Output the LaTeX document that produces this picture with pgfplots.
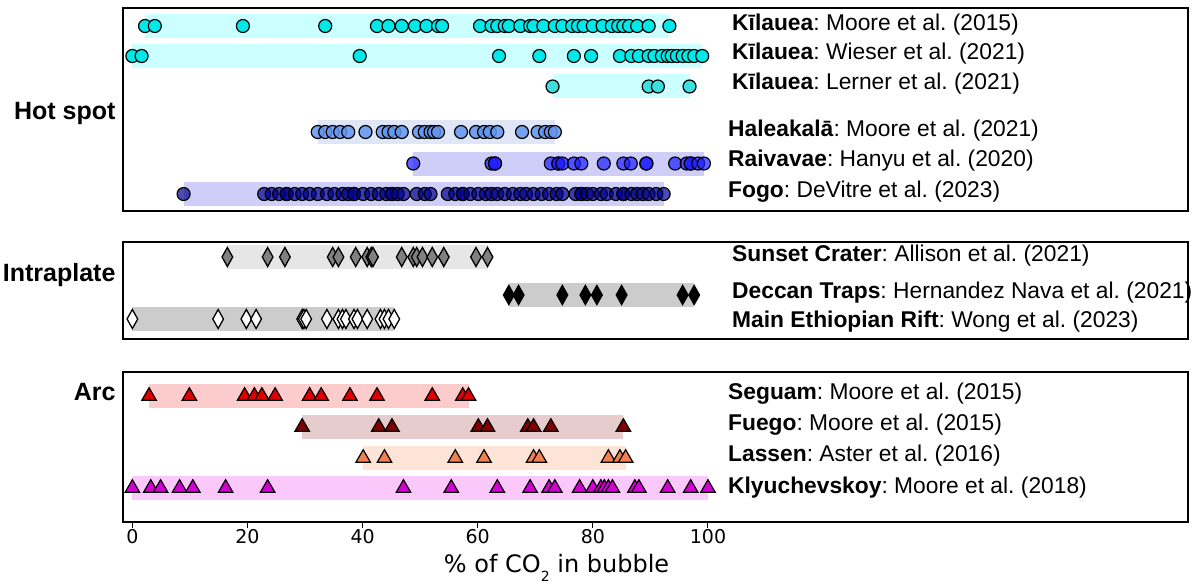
\documentclass[border=0pt]{standalone}
\usepackage{fontspec}
\setmainfont{Liberation Sans}
\newfontfamily\dejavu{DejaVu Sans}
\usepackage{pgfplots}
\pgfplotsset{compat=1.18}
\frenchspacing

% marker fills
\definecolor{kcyan}{RGB}{0,232,232}
\definecolor{lcyan}{RGB}{60,222,222}
\definecolor{halea}{RGB}{100,149,237}
\definecolor{raiva}{RGB}{30,30,255}
\definecolor{fogo}{RGB}{0,0,139}
\definecolor{seguam}{RGB}{222,0,0}
\definecolor{fuego}{RGB}{128,0,0}
\definecolor{lassen}{RGB}{240,128,80}
\definecolor{klyu}{RGB}{210,0,210}
% band fills
\definecolor{bcyan}{RGB}{204,255,255}
\definecolor{bhalea}{RGB}{222,230,247}
\definecolor{bblue}{RGB}{206,206,248}
\definecolor{bgray}{RGB}{230,230,230}
\definecolor{bdark}{RGB}{204,204,204}
\definecolor{bseg}{RGB}{252,204,204}
\definecolor{bfue}{RGB}{230,204,204}
\definecolor{blas}{RGB}{253,228,215}
\definecolor{bkly}{RGB}{250,200,250}

\pgfplotsset{
  panel/.style={scale only axis, width=1065pt, xmin=-1.63, xmax=183.4,
    y dir=reverse, clip=false, axis line style={line width=1.5pt},
    xtick=\empty, ytick=\empty},
  band/.style={line width=24pt, no marks, line cap=butt},
  circ/.style={only marks, mark=*, mark size=6.5pt, draw=black, line width=1.2pt, fill=#1},
  diam/.style={only marks, mark=diamond*, mark size=9.5pt, draw=black, line width=1.3pt, fill=#1,
    mark options={xscale=0.75}},
  tri/.style={only marks, mark=triangle*, mark size=8.3pt, draw=black, line width=1.2pt, fill=#1},
}
\newcommand{\lab}{\fontsize{22.8}{27}\selectfont}
\newcommand{\grp}{\fontsize{25}{30}\selectfont\bfseries}

\begin{document}
\begin{tikzpicture}
\path[use as bounding box] (0,0) rectangle (1195pt,-585pt);

% ---------------- Hot spot ----------------
\begin{axis}[panel, at={(123pt,-8pt)}, anchor=north west, height=203pt, ymin=8, ymax=211]
\addplot[band, bcyan] coordinates {(2.2,26) (93.3,26)};
\addplot[band, bcyan] coordinates {(0,56) (99.0,56)};
\addplot[band, bcyan] coordinates {(73.0,86.5) (96.8,86.5)};
\addplot[band, bhalea] coordinates {(32.2,132) (73.4,132)};
\addplot[band, bblue] coordinates {(48.8,163.5) (99.3,163.5)};
\addplot[band, bblue] coordinates {(8.9,194) (92.3,194)};

\addplot[circ=kcyan] coordinates {
(2.2,26)(3.9,26)(19.2,26)(33.5,26)(42.5,26)(44.5,26)(46.8,26)(49.1,26)(51.1,26)
(53.1,26)(53.8,26)(60.4,26)(62.4,26)(63.4,26)(64.7,26)(65.4,26)(67.4,26)(69.1,26)
(69.7,26)(71.4,26)(73.4,26)(74.7,26)(76.4,26)(77.4,26)(78.4,26)(80.0,26)(81.7,26)
(83.3,26)(84.4,26)(85.3,26)(86.3,26)(87.7,26)(89.7,26)(93.3,26)};
\addplot[circ=kcyan] coordinates {
(0,56)(1.6,56)(39.5,56)(63.7,56)(70.7,56)(76.7,56)(79.7,56)(84.7,56)(86.7,56)
(88.0,56)(89.7,56)(90.7,56)(92.0,56)(93.0,56)(93.7,56)(94.6,56)(95.6,56)(96.6,56)
(97.6,56)(99.0,56)};
\addplot[circ=lcyan] coordinates {(73.0,86.5)(89.7,86.5)(91.3,86.5)(96.8,86.5)};
\addplot[circ=halea, fill opacity=0.85] coordinates {
(32.2,132)(33.5,132)(34.8,132)(36.1,132)(37.5,132)(40.5,132)(43.5,132)(44.5,132)
(45.5,132)(46.8,132)(49.8,132)(50.8,132)(51.8,132)(52.4,132)(53.1,132)(57.1,132)
(59.7,132)(61.1,132)(62.1,132)(63.4,132)(67.7,132)(70.4,132)(71.7,132)(72.7,132)(73.4,132)};
\addplot[circ=raiva, fill opacity=0.7] coordinates {
(48.8,163.5)(62.4,163.5)(63.0,163.5)(63.0,163.5)(72.7,163.5)(74.0,163.5)(74.0,163.5)
(74.7,163.5)(76.7,163.5)(78.0,163.5)(81.9,163.5)(85.3,163.5)(86.6,163.5)(89.3,163.5)
(89.3,163.5)(94.3,163.5)(96.3,163.5)(97.0,163.5)(97.0,163.5)(98.3,163.5)(99.3,163.5)};
\addplot[circ=fogo, fill opacity=0.7] coordinates {
(8.9,194)(22.9,194)(24.2,194)(25.5,194)(26.8,194)(26.8,194)(28.2,194)(29.5,194)(30.8,194)
(32.2,194)(33.8,194)(35.1,194)(36.5,194)(37.5,194)(38.5,194)(38.5,194)(40.1,194)(41.5,194)
(42.8,194)(44.1,194)(45.1,194)(45.1,194)(46.1,194)(47.1,194)(49.4,194)(50.8,194)(51.8,194)
(54.8,194)(56.1,194)(57.4,194)(57.4,194)(58.7,194)(60.1,194)(61.4,194)(62.4,194)(63.4,194)
(64.7,194)(66.1,194)(67.4,194)(68.4,194)(69.7,194)(71.1,194)(72.4,194)(73.7,194)(74.7,194)
(77.0,194)(78.0,194)(78.0,194)(79.0,194)(80.0,194)(81.4,194)(82.4,194)(84.0,194)(85.3,194)
(85.3,194)(86.7,194)(87.7,194)(88.7,194)(89.7,194)(91.0,194)(92.3,194)};

\node[anchor=west, font=\lab] at (axis cs:103.6,25) {\textbf{Kīlauea}: Moore et al. (2015)};
\node[anchor=west, font=\lab] at (axis cs:103.6,54) {\textbf{Kīlauea}: Wieser et al. (2021)};
\node[anchor=west, font=\lab] at (axis cs:103.6,84) {\textbf{Kīlauea}: Lerner et al. (2021)};
\node[anchor=west, font=\lab] at (axis cs:102.9,131) {\textbf{Haleakalā}: Moore et al. (2021)};
\node[anchor=west, font=\lab] at (axis cs:102.9,161) {\textbf{Raivavae}: Hanyu et al. (2020)};
\node[anchor=west, font=\lab] at (axis cs:102.9,192) {\textbf{Fogo}: DeVitre et al. (2023)};
\node[anchor=base east, font=\grp] at (axis cs:-2.33,119.3) {Hot spot};
\end{axis}

% ---------------- Intraplate ----------------
\begin{axis}[panel, at={(123pt,-242pt)}, anchor=north west, height=97pt, ymin=242, ymax=339]
\addplot[band, bgray] coordinates {(16.5,257) (61.7,257)};
\addplot[band, bdark] coordinates {(65.4,295) (97.6,295)};
\addplot[band, bdark] coordinates {(0,319) (45.5,319)};

\addplot[diam=gray] coordinates {
(16.5,257)(23.5,257)(26.5,257)(34.8,257)(35.8,257)(38.8,257)(40.8,257)(41.5,257)(41.8,257)
(46.8,257)(48.8,257)(49.4,257)(50.4,257)(52.1,257)(54.1,257)(59.7,257)(61.7,257)};
\addplot[diam=black] coordinates {
(65.4,295)(67.1,295)(74.7,295)(78.7,295)(80.7,295)(85.0,295)(95.6,295)(97.6,295)};
\addplot[diam=white] coordinates {
(0,319)(14.9,319)(19.8,319)(21.5,319)(29.5,319)(29.8,319)(30.2,319)(33.8,319)(35.8,319)
(36.5,319)(37.1,319)(38.5,319)(39.1,319)(40.8,319)(43.1,319)(43.8,319)(44.5,319)(45.5,319)};

\node[anchor=west, font=\lab] at (axis cs:103.6,256) {\textbf{Sunset Crater}: Allison et al. (2021)};
\node[anchor=west, font=\lab] at (axis cs:103.6,293) {\textbf{Deccan Traps}: Hernandez Nava et al. (2021)};
\node[anchor=west, font=\lab] at (axis cs:103.6,322) {\textbf{Main Ethiopian Rift}: Wong et al. (2023)};
\node[anchor=base east, font=\grp] at (axis cs:-2.33,281.7) {Intraplate};
\end{axis}

% ---------------- Arc ----------------
\begin{axis}[panel, at={(123pt,-372pt)}, anchor=north west, height=150pt, ymin=372, ymax=522,
  xtick={0,20,...,100}, xtick pos=left, tick align=outside, major tick length=6pt,
  tick style={line width=1pt, black},
  xticklabel style={font=\dejavu\fontsize{19}{19}\selectfont, yshift=2pt},
  /pgf/number format/assume math mode=true]
\addplot[band, bseg] coordinates {(2.9,396) (58.4,396)};
\addplot[band, bfue] coordinates {(29.5,427) (85.3,427)};
\addplot[band, blas] coordinates {(40.1,458) (85.7,458)};
\addplot[band, bkly] coordinates {(0,488) (100,488)};

\addplot[tri=seguam] coordinates {
(2.9,396)(9.9,396)(19.5,396)(21.2,396)(22.5,396)(24.8,396)(30.8,396)(32.8,396)(37.8,396)
(42.5,396)(52.1,396)(57.4,396)(58.4,396)};
\addplot[tri=fuego] coordinates {
(29.5,427)(42.8,427)(45.1,427)(60.1,427)(61.7,427)(68.7,427)(69.7,427)(72.7,427)(85.3,427)};
\addplot[tri=lassen] coordinates {
(40.1,458)(43.8,458)(56.1,458)(61.1,458)(69.7,458)(70.7,458)(82.7,458)(84.7,458)(85.7,458)};
\addplot[tri=klyu] coordinates {
(0,488)(3.2,488)(4.9,488)(8.2,488)(10.5,488)(16.2,488)(23.5,488)(47.1,488)(55.4,488)
(63.4,488)(69.1,488)(72.4,488)(73.4,488)(77.7,488)(80.0,488)(81.4,488)(82.0,488)(82.7,488)
(83.4,488)(87.3,488)(88.0,488)(93.0,488)(97.0,488)(100.0,488)};

\node[anchor=west, font=\lab] at (axis cs:102.9,394) {\textbf{Seguam}: Moore et al. (2015)};
\node[anchor=west, font=\lab] at (axis cs:102.9,425) {\textbf{Fuego}: Moore et al. (2015)};
\node[anchor=west, font=\lab] at (axis cs:102.9,456) {\textbf{Lassen}: Aster et al. (2016)};
\node[anchor=west, font=\lab] at (axis cs:102.9,488) {\textbf{Klyuchevskoy}: Moore et al. (2018)};
\node[anchor=base east, font=\grp] at (axis cs:-2.33,400) {Arc};
\node[anchor=base, font=\dejavu\fontsize{24}{28}\selectfont] at (axis cs:73.7,572)
  {\% of CO\raisebox{-9pt}{\fontsize{14}{14}\selectfont 2} in bubble};
\end{axis}
\end{tikzpicture}
\end{document}
